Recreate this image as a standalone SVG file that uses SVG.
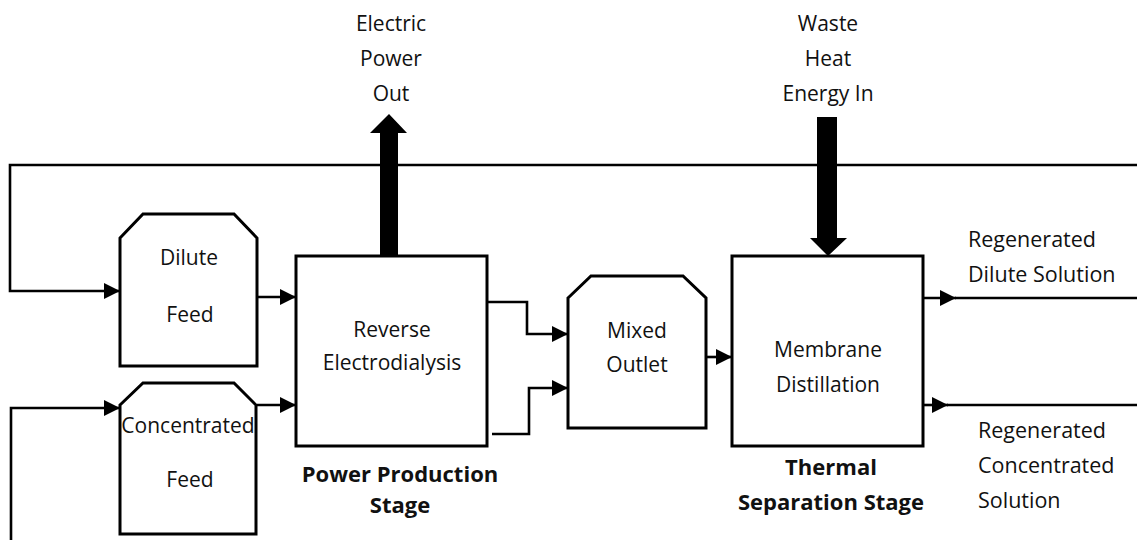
<svg xmlns="http://www.w3.org/2000/svg" width="1137" height="540" viewBox="0 0 1137 540">
<defs>
<style>
.box{fill:#fff;stroke:#000;stroke-width:3;stroke-linejoin:miter}
.ln{fill:none;stroke:#000;stroke-width:2.6}
.t{font-family:"Open Sans","Noto Sans",sans-serif;font-size:21px;fill:#111;text-anchor:middle}
.tl{font-family:"Open Sans","Noto Sans",sans-serif;font-size:21.5px;fill:#111}
.b{font-weight:bold;font-size:22px}
.big{fill:#000;stroke:none}
</style>
<marker id="ah" markerUnits="userSpaceOnUse" markerWidth="16" markerHeight="16" refX="16" refY="8" orient="auto">
<path d="M0,0 L16,8 L0,16 Z" fill="#000"/>
</marker>
</defs>
<rect width="1137" height="540" fill="#fff"/>

<g id="connectors">
<path class="ln" d="M1137,165 L10,165 L10,291 L120,291" marker-end="url(#ah)"/>
<path class="ln" d="M11,540 L11,408 L120,408" marker-end="url(#ah)"/>
<path class="ln" d="M257,297 L296,297" marker-end="url(#ah)"/>
<path class="ln" d="M257,405 L296,405" marker-end="url(#ah)"/>
<path class="ln" d="M487,302 L527,302 L527,334 L568,334" marker-end="url(#ah)"/>
<path class="ln" d="M492,434 L529,434 L529,388 L568,388" marker-end="url(#ah)"/>
<path class="ln" d="M706,357 L732,357" marker-end="url(#ah)"/>
<path class="ln" d="M923,298 L956,298" marker-end="url(#ah)"/>
<path class="ln" d="M955,298 L1137,298"/>
<path class="ln" d="M923,405 L948,405" marker-end="url(#ah)"/>
<path class="ln" d="M947,405 L1137,405"/>
<polygon class="big" points="380,256 398,256 398,133 407,133 389,114 370,133 380,133"/>
<polygon class="big" points="817,117 837,117 837,238 847,238 828,256 810,238 817,238"/>
</g>

<g id="dilute-feed">
<polygon class="box" points="120,238 143,214 234,214 257,238 257,366 120,366"/>
<text class="t" x="189" y="265">Dilute</text>
<text class="t" x="190" y="322">Feed</text>
</g>

<g id="concentrated-feed">
<polygon class="box" points="120,405 143,383 234,383 256,405 256,534 120,534"/>
<text class="t" x="188" y="433">Concentrated</text>
<text class="t" x="190" y="487">Feed</text>
</g>

<g id="reverse-electrodialysis">
<rect class="box" x="296" y="256" width="191" height="190"/>
<text class="t" x="392" y="337">Reverse</text>
<text class="t" x="392" y="370">Electrodialysis</text>
</g>

<g id="mixed-outlet">
<polygon class="box" points="568,298 591,276 683,276 706,298 706,428 568,428"/>
<text class="t" x="637" y="338">Mixed</text>
<text class="t" x="637" y="372">Outlet</text>
</g>

<g id="membrane-distillation">
<rect class="box" x="732" y="256" width="191" height="190"/>
<text class="t" x="828" y="357">Membrane</text>
<text class="t" x="828" y="392">Distillation</text>
</g>

<g id="labels">
<text class="t" x="391" y="31">Electric</text>
<text class="t" x="391" y="66">Power</text>
<text class="t" x="391" y="101">Out</text>
<text class="t" x="828" y="31">Waste</text>
<text class="t" x="828" y="66">Heat</text>
<text class="t" x="828" y="101">Energy In</text>
<text class="t b" x="400" y="482">Power Production</text>
<text class="t b" x="400" y="513">Stage</text>
<text class="t b" x="831" y="475">Thermal</text>
<text class="t b" x="831" y="510">Separation Stage</text>
<text class="tl" x="968" y="247">Regenerated</text>
<text class="tl" x="968" y="282">Dilute Solution</text>
<text class="tl" x="978" y="438">Regenerated</text>
<text class="tl" x="978" y="473">Concentrated</text>
<text class="tl" x="978" y="508">Solution</text>
</g>
</svg>
